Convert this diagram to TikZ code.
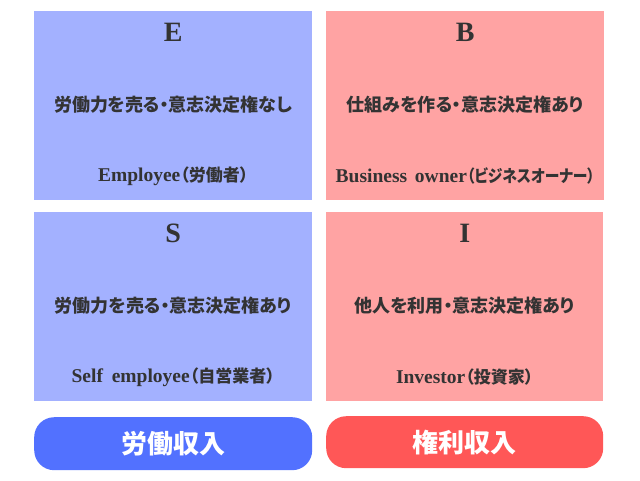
\documentclass[tikz,border=0pt]{standalone}
\usepackage{fontspec}
\setmainfont{Liberation Serif}
\newfontfamily\jp{Noto Sans CJK JP}[RawFeature=+palt]
\newfontfamily\jpnarrow{Noto Sans CJK JP}[RawFeature=+palt, FakeStretch=0.87]
\newcommand\jpsub[1]{{\jp\fontsize{17}{17}\selectfont #1}}
\newcommand\kanasub[1]{{\jpnarrow\fontsize{17}{17}\selectfont #1}}
\definecolor{empblue}{HTML}{A3B1FF}
\definecolor{ownpink}{HTML}{FFA3A3}
\definecolor{btnblue}{HTML}{5271FF}
\definecolor{btnred}{HTML}{FF5757}
\definecolor{ink}{HTML}{333333}
\tikzset{
  quad/.style={minimum width=278pt, minimum height=189pt, inner sep=0pt, anchor=north west},
  letter/.style={font=\bfseries\fontsize{28}{28}\selectfont, text=ink},
  desc/.style={font=\jp\bfseries\fontsize{18}{18}\selectfont, text=ink},
  role/.style={font=\bfseries\fontsize{19.5}{19.5}\selectfont, text=ink},
  income/.style={rounded corners=20pt, minimum width=278pt, minimum height=53pt, inner sep=0pt,
    anchor=north west, font=\jp\bfseries\fontsize{26}{26}\selectfont, text=white},
}
\begin{document}
\begin{tikzpicture}[x=1pt, y=-1pt]
\useasboundingbox (0,0) rectangle (640,480);
\node[quad, fill=empblue] (E) at (34,11) {};
\node[quad, fill=ownpink] (B) at (326,11) {};
\node[quad, fill=empblue] (S) at (34,212) {};
\node[quad, fill=ownpink, minimum width=277pt] (I) at (326,212) {};

\foreach \q/\d/\r in {E/{労働力を売る・意志決定権なし}/{Employee\jpsub{（労働者）}},
                      B/{仕組みを作る・意志決定権あり}/{Business\hspace{.15em} owner\kanasub{（ビジネスオーナー）}},
                      S/{労働力を売る・意志決定権あり}/{Self\hspace{.2em} employee\jpsub{（自営業者）}},
                      I/{他人を利用・意志決定権あり}/{Investor\jpsub{（投資家）}}}
{
    \node[letter] (\q-letter) at ([yshift=-21pt]\q.north) {\q};
    \node[desc] (\q-desc) at ([yshift=-94pt]\q.north) {\d};
    \node[role] (\q-role) at ([yshift=-165pt]\q.north) {\r};
}

\node[income, fill=btnblue] (labour) at (34,417) {労働収入};
\node[income, fill=btnred, minimum width=277pt, minimum height=52pt] (rights) at (326,416) {権利収入};
\end{tikzpicture}
\end{document}
